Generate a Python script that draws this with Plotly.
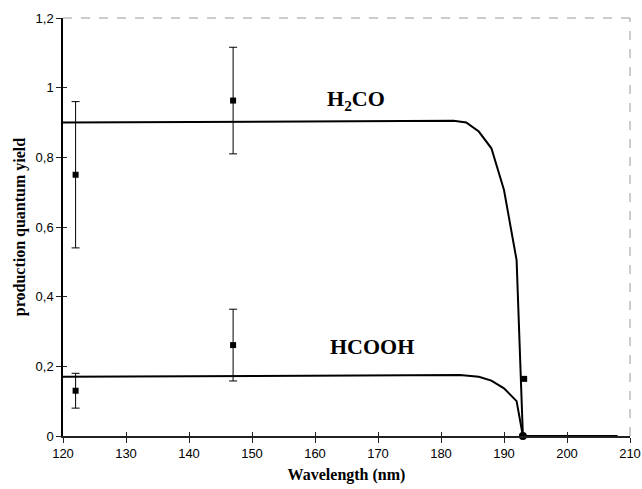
import plotly.graph_objects as go

# Curves
h2co_x = [120, 182, 184, 186, 188, 190, 192, 193, 208]
h2co_y = [0.90, 0.905, 0.90, 0.874, 0.826, 0.706, 0.505, 0.0, 0.0]
hcooh_x = [120, 183, 186, 188, 190, 192, 193, 208]
hcooh_y = [0.17, 0.175, 0.170, 0.159, 0.137, 0.100, 0.0, 0.0]

# Measured points
h2co_pts_x = [122, 147]
h2co_pts_y = [0.75, 0.963]
h2co_err = [0.21, 0.153]
hcooh_pts_x = [122, 147]
hcooh_pts_y = [0.13, 0.261]
hcooh_err = [0.05, 0.103]
extra_pt_x = [193.2]
extra_pt_y = [0.164]
zero_pt_x = [193]
zero_pt_y = [0.0]

x_ticks = [120, 130, 140, 150, 160, 170, 180, 190, 200, 210]
y_ticks = [0, 0.2, 0.4, 0.6, 0.8, 1.0, 1.2]

fig = go.Figure()
line_style = dict(color="black", width=2)
fig.add_trace(go.Scatter(x=h2co_x, y=h2co_y, mode="lines", line=line_style))
fig.add_trace(go.Scatter(x=hcooh_x, y=hcooh_y, mode="lines", line=line_style))
err_style = dict(type="data", thickness=1, width=4, color="black")
fig.add_trace(go.Scatter(x=h2co_pts_x, y=h2co_pts_y, mode="markers",
                         marker=dict(symbol="square", size=6, color="black"),
                         error_y=dict(array=h2co_err, **err_style)))
fig.add_trace(go.Scatter(x=hcooh_pts_x, y=hcooh_pts_y, mode="markers",
                         marker=dict(symbol="square", size=6, color="black"),
                         error_y=dict(array=hcooh_err, **err_style)))
fig.add_trace(go.Scatter(x=extra_pt_x, y=extra_pt_y, mode="markers",
                         marker=dict(symbol="square", size=6, color="black")))
fig.add_trace(go.Scatter(x=zero_pt_x, y=zero_pt_y, mode="markers",
                         marker=dict(symbol="circle", size=8, color="black"),
                         cliponaxis=False))
# invisible trace for overlay axes (inner half of crossing ticks)
fig.add_trace(go.Scatter(x=[120], y=[0], xaxis="x2", yaxis="y2", mode="markers",
                         marker=dict(opacity=0), hoverinfo="skip"))

tick_font = dict(family="Liberation Sans, Arial, sans-serif", size=13, color="black")
title_font = dict(family="Liberation Serif, Times New Roman, serif", size=16, color="black")

fig.update_layout(
    width=642, height=489,
    margin=dict(l=63, r=12, t=18, b=53),
    paper_bgcolor="white", plot_bgcolor="white",
    showlegend=False,
    separators=", ",
    xaxis=dict(range=[120, 210], tickvals=x_ticks, ticks="outside", ticklen=5,
               tickcolor="#222", showline=True, linecolor="#222", linewidth=1.5,
               showgrid=False, zeroline=False, tickfont=tick_font, automargin=False,
               title=dict(text="<b>Wavelength (nm)</b>", font=title_font, standoff=8)),
    yaxis=dict(range=[0, 1.2], tickvals=y_ticks, ticks="outside", ticklen=5,
               tickcolor="#222", showline=True, linecolor="black", linewidth=1.5,
               showgrid=False, zeroline=False, tickfont=tick_font, automargin=False,
               tickformat="~g",
               title=dict(text="<b>production quantum yield</b>", font=title_font, standoff=6)),
    xaxis2=dict(range=[120, 210], overlaying="x", tickvals=x_ticks, ticks="inside",
                ticklen=4, tickcolor="#222", showticklabels=False, showgrid=False,
                zeroline=False, showline=False, side="bottom", automargin=False),
    yaxis2=dict(range=[0, 1.2], overlaying="y", tickvals=y_ticks, ticks="inside",
                ticklen=4, tickcolor="#222", showticklabels=False, showgrid=False,
                zeroline=False, showline=False, side="left", automargin=False),
    shapes=[
        dict(type="line", xref="paper", yref="paper", x0=0, x1=1, y0=1, y1=1,
             line=dict(color="#999", width=1, dash="dash")),
        dict(type="line", xref="paper", yref="paper", x0=1, x1=1, y0=0, y1=1,
             line=dict(color="#999", width=1, dash="dash")),
    ],
    annotations=[
        dict(x=166.5, y=0.965, xref="x", yref="y", showarrow=False,
             text="<b>H<sub>2</sub>CO</b>",
             font=dict(family="Liberation Serif, Times New Roman, serif", size=22, color="black")),
        dict(x=169.0, y=0.258, xref="x", yref="y", showarrow=False,
             text="<b>HCOOH</b>",
             font=dict(family="Liberation Serif, Times New Roman, serif", size=22, color="black")),
    ],
)

fig.write_html("out.html")
